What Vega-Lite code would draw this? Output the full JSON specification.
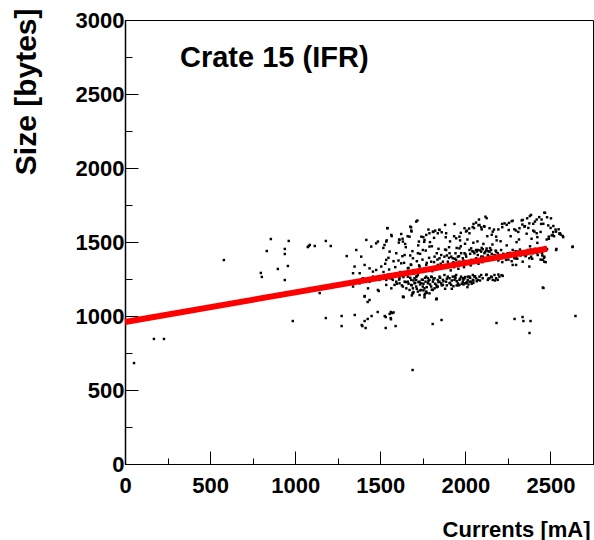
{
"$schema": "https://vega.github.io/schema/vega-lite/v6.json",
"width": 468, "height": 444,
"autosize": {"type": "none"},
"padding": {"left": 125, "top": 20, "right": 1, "bottom": 76},
"background": "white",
"config": {"view": {"stroke": "black", "strokeWidth": 1}, "font": "Liberation Sans"},
"title": {"text": "Crate 15 (IFR)", "anchor": "start", "frame": "group", "dx": 55, "offset": -88, "baseline": "alphabetic", "font": "Liberation Sans", "fontSize": 29, "fontWeight": "bold", "color": "black"},
"datasets": {
"fit": [{"x": 0, "y": 960}, {"x": 2480, "y": 1454}],
"pts": [
{"x":53,"y":682},{"x":170,"y":845},{"x":229,"y":845},{"x":581,"y":1378},{"x":798,"y":1291},{"x":804,"y":1264},{"x":833,"y":1439},{"x":857,"y":1520},{"x":898,"y":1318},{"x":939,"y":1453},{"x":939,"y":1419},{"x":957,"y":1338},{"x":962,"y":1507},{"x":939,"y":1243},{"x":986,"y":966},{"x":1074,"y":1466},{"x":1086,"y":1480},{"x":1080,"y":1473},{"x":1115,"y":1473},{"x":1144,"y":1155},{"x":1180,"y":1507},{"x":1180,"y":986},{"x":1209,"y":1473},{"x":1273,"y":1000},{"x":1273,"y":932},{"x":1303,"y":1405},
{"x":1491,"y":1169},{"x":1408,"y":1135},{"x":1426,"y":1095},{"x":1637,"y":1128},{"x":1690,"y":1155},{"x":1760,"y":1142},{"x":1350,"y":1007},{"x":1391,"y":939},{"x":1395,"y":932},{"x":1408,"y":966},{"x":1426,"y":980},{"x":1414,"y":919},{"x":1449,"y":1000},{"x":1485,"y":1027},{"x":1526,"y":1000},{"x":1532,"y":993},{"x":1555,"y":1014},{"x":1562,"y":1027},{"x":1570,"y":1020},{"x":1578,"y":1024},{"x":1561,"y":986},{"x":1563,"y":978},{"x":1532,"y":919},{"x":1590,"y":932},{"x":1808,"y":946},{"x":1690,"y":635},{"x":1831,"y":1115},{"x":1860,"y":973},{"x":2183,"y":953},{"x":2289,"y":980},{"x":2336,"y":993},{"x":2341,"y":966},{"x":2383,"y":966},{"x":2377,"y":885},{"x":2647,"y":1000},{"x":2459,"y":1189},{"x":2629,"y":1466},{"x":2535,"y":1453},
{"x":2118,"y":1671},{"x":2386,"y":1683},{"x":2464,"y":1698},{"x":2480,"y":1667},{"x":2503,"y":1660},{"x":2337,"y":1649},{"x":2363,"y":1660},{"x":2376,"y":1626},{"x":2409,"y":1638},{"x":2445,"y":1622},{"x":2517,"y":1608},{"x":2548,"y":1586},{"x":2556,"y":1559},{"x":2572,"y":1541},{"x":2533,"y":1570},{"x":2490,"y":1536},{"x":2513,"y":1548},{"x":2406,"y":1570},{"x":2419,"y":1559},{"x":2347,"y":1604},{"x":2318,"y":1593},{"x":2288,"y":1586},{"x":2255,"y":1581},{"x":2230,"y":1626},{"x":2216,"y":1622},{"x":2278,"y":1644},{"x":2181,"y":1536},{"x":2161,"y":1570},{"x":2142,"y":1593},{"x":2112,"y":1604},{"x":2093,"y":1599},{"x":2083,"y":1615},{"x":2063,"y":1631},{"x":2048,"y":1622},{"x":2024,"y":1559},{"x":2009,"y":1577},{"x":1995,"y":1593},{"x":1965,"y":1536},{"x":1946,"y":1525},{"x":1936,"y":1622},{"x":1881,"y":1615},{"x":1887,"y":1559},{"x":1848,"y":1581},{"x":1838,"y":1559},{"x":1809,"y":1570},{"x":1789,"y":1559},{"x":1770,"y":1548},{"x":1760,"y":1514},{"x":1741,"y":1536},{"x":1727,"y":1503},{"x":1711,"y":1638},{"x":1676,"y":1604},{"x":1682,"y":1577},{"x":1672,"y":1536},{"x":1633,"y":1503},{"x":1613,"y":1514},{"x":1609,"y":1496},{"x":1623,"y":1554},{"x":1565,"y":1548},{"x":1541,"y":1593},{"x":1535,"y":1503},{"x":1525,"y":1480},{"x":1486,"y":1503},{"x":1476,"y":1491},{"x":1447,"y":1469},{"x":1418,"y":1514},{"x":1359,"y":1446},{"x":1388,"y":1401},{"x":1349,"y":1334},{"x":1408,"y":1345},{"x":1437,"y":1322},{"x":1379,"y":1289},{"x":1340,"y":1289},
{"x":1555,"y":1435},{"x":1594,"y":1424},{"x":1643,"y":1412},{"x":1692,"y":1390},{"x":1721,"y":1424},{"x":1750,"y":1446},{"x":1789,"y":1469},{"x":1832,"y":1424},{"x":1858,"y":1412},{"x":1887,"y":1446},{"x":1917,"y":1401},{"x":1942,"y":1424},{"x":1965,"y":1457},{"x":1995,"y":1424},{"x":2024,"y":1446},{"x":2048,"y":1435},{"x":2073,"y":1446},{"x":2102,"y":1451},{"x":2122,"y":1442},{"x":2142,"y":1435},{"x":2171,"y":1412},{"x":2190,"y":1424},{"x":2220,"y":1401},{"x":2249,"y":1424},{"x":2278,"y":1446},{"x":2308,"y":1435},{"x":2337,"y":1424},{"x":2367,"y":1446},{"x":2396,"y":1424},{"x":2415,"y":1435},{"x":2451,"y":1424},{"x":2464,"y":1401},{"x":2337,"y":1367},{"x":2376,"y":1334},{"x":2278,"y":1345},{"x":2239,"y":1379},{"x":2210,"y":1390},{"x":2161,"y":1390},{"x":2132,"y":1390},{"x":2093,"y":1401},{"x":2063,"y":1390},{"x":2034,"y":1379},{"x":1965,"y":1367},{"x":1926,"y":1356},{"x":1897,"y":1367},{"x":1868,"y":1367},{"x":1838,"y":1345},{"x":1799,"y":1367},{"x":1770,"y":1345},{"x":1731,"y":1334},{"x":1682,"y":1345},{"x":1662,"y":1322},{"x":1623,"y":1356},{"x":1535,"y":1379},{"x":1506,"y":1334},{"x":1476,"y":1311},{"x":1457,"y":1300},
{"x":2034,"y":1457},{"x":2053,"y":1424},{"x":2073,"y":1412},{"x":2093,"y":1435},{"x":2112,"y":1424},{"x":2132,"y":1412},{"x":2151,"y":1446},{"x":2181,"y":1435},{"x":2200,"y":1412},{"x":2210,"y":1446},{"x":2102,"y":1401},{"x":2122,"y":1379},{"x":2142,"y":1401},{"x":2190,"y":1390},{"x":2063,"y":1446},{"x":2005,"y":1401},{"x":1985,"y":1390},{"x":1956,"y":1401},{"x":1907,"y":1424},{"x":1877,"y":1401},{"x":1848,"y":1390},{"x":1819,"y":1401},{"x":1926,"y":1390},{"x":1975,"y":1424},{"x":1946,"y":1379},{"x":2230,"y":1412},{"x":2259,"y":1401},{"x":2298,"y":1390},{"x":2318,"y":1424},{"x":2357,"y":1412},{"x":2386,"y":1401},{"x":2425,"y":1412},{"x":2454,"y":1446},{"x":2474,"y":1457},{"x":2480,"y":1451},
{"x":2298,"y":1412},{"x":2327,"y":1435},{"x":2347,"y":1412},{"x":2386,"y":1435},{"x":2425,"y":1446},{"x":2445,"y":1457},{"x":2454,"y":1379},{"x":2464,"y":1367},{"x":2376,"y":1390},{"x":2288,"y":1390},{"x":2298,"y":1345},{"x":2631,"y":1469},{"x":2533,"y":1446},
{"x":1633,"y":1277},{"x":1662,"y":1266},{"x":1682,"y":1244},{"x":1701,"y":1255},{"x":1721,"y":1277},{"x":1731,"y":1232},{"x":1750,"y":1244},{"x":1770,"y":1266},{"x":1780,"y":1221},{"x":1789,"y":1244},{"x":1799,"y":1199},{"x":1809,"y":1232},{"x":1819,"y":1255},{"x":1829,"y":1210},{"x":1838,"y":1244},{"x":1848,"y":1266},{"x":1858,"y":1221},{"x":1868,"y":1244},{"x":1877,"y":1277},{"x":1887,"y":1232},{"x":1907,"y":1255},{"x":1917,"y":1210},{"x":1926,"y":1266},{"x":1936,"y":1244},{"x":1946,"y":1277},{"x":1956,"y":1221},{"x":1965,"y":1244},{"x":1975,"y":1266},{"x":1985,"y":1232},{"x":1995,"y":1255},{"x":2005,"y":1221},{"x":2014,"y":1244},{"x":2024,"y":1266},{"x":2034,"y":1232},{"x":2044,"y":1277},{"x":2063,"y":1255},{"x":2083,"y":1266},{"x":2102,"y":1255},{"x":2122,"y":1277},{"x":2132,"y":1244},{"x":2151,"y":1266},{"x":2161,"y":1244},{"x":2181,"y":1255},{"x":2200,"y":1266},{"x":2220,"y":1271},{"x":1711,"y":1199},{"x":1741,"y":1176},{"x":1760,"y":1187},{"x":1770,"y":1165},{"x":1789,"y":1153},{"x":1809,"y":1176},{"x":1692,"y":1153},{"x":1672,"y":1176},{"x":1653,"y":1187},{"x":1633,"y":1199},{"x":1613,"y":1221},{"x":1594,"y":1232},{"x":1574,"y":1244},{"x":1555,"y":1255},{"x":1535,"y":1244},{"x":1516,"y":1266},{"x":1496,"y":1244},{"x":1476,"y":1255},{"x":1457,"y":1266},{"x":1437,"y":1232},{"x":1418,"y":1244},{"x":1398,"y":1255},{"x":1379,"y":1221},{"x":1359,"y":1232},{"x":1340,"y":1199},{"x":1428,"y":1187},{"x":1408,"y":1131},{"x":1437,"y":1108},{"x":1486,"y":1176},{"x":1633,"y":1131},{"x":1829,"y":1113},{"x":1760,"y":1126},{"x":1731,"y":1142},{"x":1721,"y":1165},{"x":1701,"y":1221},{"x":1682,"y":1210},
{"x":1662,"y":1232},{"x":1692,"y":1187},{"x":1711,"y":1244},{"x":1741,"y":1221},{"x":1750,"y":1199},{"x":1766,"y":1232},{"x":1780,"y":1255},{"x":1799,"y":1266},{"x":1819,"y":1187},{"x":1838,"y":1199},{"x":1848,"y":1232},{"x":1868,"y":1210},{"x":1897,"y":1266},{"x":1907,"y":1221},{"x":1942,"y":1255},{"x":1965,"y":1210},{"x":1985,"y":1255},{"x":1995,"y":1221},{"x":2014,"y":1266},{"x":2024,"y":1232},{"x":2044,"y":1244},{"x":2053,"y":1266},{"x":2073,"y":1244},{"x":2093,"y":1277},{"x":2142,"y":1255},{"x":2171,"y":1277},{"x":2190,"y":1244},{"x":1711,"y":1266},{"x":1643,"y":1232},{"x":1613,"y":1255},{"x":1584,"y":1210},{"x":1565,"y":1187},{"x":1535,"y":1210},
{"x":1718,"y":1645},{"x":1543,"y":1594},{"x":1681,"y":1599},{"x":1684,"y":1571},{"x":1753,"y":1533},{"x":1783,"y":1584},{"x":1812,"y":1568},{"x":1823,"y":1577},{"x":1847,"y":1583},{"x":1861,"y":1566},{"x":1816,"y":1528},{"x":1792,"y":1499},{"x":1758,"y":1501},{"x":1723,"y":1477},{"x":1611,"y":1517},{"x":1631,"y":1522},{"x":1646,"y":1487},{"x":1650,"y":1465},{"x":1538,"y":1511},{"x":1518,"y":1460},{"x":1567,"y":1540},{"x":1661,"y":1539},{"x":1885,"y":1532},{"x":1910,"y":1504},{"x":1934,"y":1539},{"x":1969,"y":1511},{"x":1973,"y":1562},{"x":2004,"y":1571},{"x":2022,"y":1591},{"x":2043,"y":1601},{"x":2051,"y":1594},{"x":2077,"y":1613},{"x":2080,"y":1652},{"x":2096,"y":1585},{"x":2110,"y":1607},{"x":2125,"y":1661},{"x":2129,"y":1539},{"x":2155,"y":1549},{"x":2168,"y":1584},{"x":2194,"y":1585},{"x":2217,"y":1600},{"x":2243,"y":1616},{"x":2256,"y":1629},{"x":2272,"y":1640},{"x":2297,"y":1578},{"x":2311,"y":1568},{"x":2331,"y":1646},{"x":2335,"y":1618},{"x":2350,"y":1607},{"x":2370,"y":1595},{"x":2379,"y":1675},{"x":2399,"y":1623},{"x":2399,"y":1577},{"x":2419,"y":1652},{"x":2434,"y":1668},{"x":2448,"y":1652},{"x":2468,"y":1697},{"x":2487,"y":1612},{"x":2501,"y":1595},{"x":2516,"y":1567},{"x":2530,"y":1584},{"x":2552,"y":1556},{"x":2560,"y":1550},{"x":2575,"y":1533},{"x":2521,"y":1539},{"x":2507,"y":1544},{"x":2458,"y":1623},{"x":2442,"y":1568},{"x":2423,"y":1533},{"x":2360,"y":1556},{"x":2389,"y":1522},{"x":2315,"y":1517},{"x":2301,"y":1499},{"x":2266,"y":1539},{"x":2243,"y":1477},{"x":2207,"y":1505},{"x":2184,"y":1511},{"x":2159,"y":1483},{"x":2145,"y":1459},{"x":2106,"y":1487},{"x":2071,"y":1504},{"x":2047,"y":1495},{"x":2012,"y":1517},{"x":1998,"y":1488},{"x":1973,"y":1471},{"x":1949,"y":1460},{"x":1904,"y":1465},{"x":1881,"y":1449},{"x":1842,"y":1454},{"x":1803,"y":1471},{"x":1767,"y":1442},{"x":1734,"y":1420},{"x":1689,"y":1438},{"x":1676,"y":1409},{"x":1630,"y":1404},{"x":1607,"y":1375},{"x":1578,"y":1370},{"x":1548,"y":1393},{"x":1529,"y":1353},{"x":1588,"y":1330},{"x":1552,"y":1314},{"x":1519,"y":1297},{"x":2468,"y":1465},{"x":2380,"y":1471},{"x":2423,"y":1494},{"x":2478,"y":1517},{"x":2491,"y":1522},
{"x":1891,"y":1409},{"x":1904,"y":1393},{"x":1930,"y":1364},{"x":1939,"y":1387},{"x":1953,"y":1359},{"x":1963,"y":1404},{"x":1989,"y":1375},{"x":2002,"y":1415},{"x":2028,"y":1420},{"x":2041,"y":1438},{"x":2067,"y":1436},{"x":2086,"y":1443},{"x":2096,"y":1460},{"x":2116,"y":1432},{"x":2125,"y":1456},{"x":2135,"y":1438},{"x":2155,"y":1420},{"x":2174,"y":1409},{"x":2178,"y":1442},{"x":2204,"y":1398},{"x":2223,"y":1420},{"x":2237,"y":1405},{"x":2262,"y":1426},{"x":2276,"y":1409},{"x":2295,"y":1438},{"x":2321,"y":1449},{"x":2325,"y":1409},{"x":2344,"y":1426},{"x":2370,"y":1432},{"x":2383,"y":1449},{"x":2409,"y":1454},{"x":2419,"y":1426},{"x":2438,"y":1432},{"x":2452,"y":1409},{"x":2462,"y":1393},{"x":2472,"y":1364},{"x":2442,"y":1381},{"x":2393,"y":1387},{"x":2354,"y":1404},{"x":2305,"y":1387},{"x":2272,"y":1370},{"x":2253,"y":1381},{"x":2217,"y":1364},{"x":2194,"y":1375},{"x":2165,"y":1387},{"x":2129,"y":1375},{"x":2100,"y":1364},{"x":2077,"y":1353},{"x":2057,"y":1370},{"x":2031,"y":1342},{"x":2018,"y":1353},{"x":1992,"y":1330},{"x":1979,"y":1348},{"x":1959,"y":1319},{"x":1934,"y":1330},{"x":1914,"y":1308},{"x":1901,"y":1336},{"x":1875,"y":1342},{"x":1855,"y":1353},{"x":1836,"y":1381},{"x":1816,"y":1364},{"x":1787,"y":1393},{"x":1773,"y":1359},{"x":1748,"y":1381},{"x":1728,"y":1342},{"x":1715,"y":1370},{"x":1679,"y":1348},{"x":1666,"y":1325},{"x":1640,"y":1359},{"x":1617,"y":1297},{"x":1695,"y":1285},{"x":1793,"y":1325},{"x":1806,"y":1303},
{"x":1513,"y":1263},{"x":1548,"y":1280},{"x":1568,"y":1252},{"x":1581,"y":1269},{"x":1597,"y":1218},{"x":1611,"y":1246},{"x":1636,"y":1263},{"x":1650,"y":1229},{"x":1676,"y":1258},{"x":1685,"y":1207},{"x":1695,"y":1240},{"x":1705,"y":1224},{"x":1715,"y":1269},{"x":1724,"y":1229},{"x":1734,"y":1213},{"x":1744,"y":1246},{"x":1754,"y":1218},{"x":1763,"y":1258},{"x":1773,"y":1195},{"x":1783,"y":1235},{"x":1793,"y":1213},{"x":1803,"y":1263},{"x":1812,"y":1246},{"x":1822,"y":1218},{"x":1832,"y":1195},{"x":1842,"y":1229},{"x":1852,"y":1258},{"x":1861,"y":1207},{"x":1871,"y":1235},{"x":1881,"y":1184},{"x":1891,"y":1252},{"x":1910,"y":1224},{"x":1920,"y":1240},{"x":1930,"y":1201},{"x":1940,"y":1269},{"x":1949,"y":1235},{"x":1959,"y":1207},{"x":1969,"y":1252},{"x":1979,"y":1218},{"x":1989,"y":1246},{"x":1998,"y":1263},{"x":2008,"y":1229},{"x":2018,"y":1213},{"x":2028,"y":1258},{"x":2037,"y":1218},{"x":2047,"y":1240},{"x":2057,"y":1269},{"x":2067,"y":1235},{"x":2086,"y":1240},{"x":2125,"y":1280},{"x":2135,"y":1252},{"x":2155,"y":1263},{"x":2174,"y":1240},{"x":2194,"y":1280},{"x":2213,"y":1276},{"x":1754,"y":1173},{"x":1773,"y":1157},{"x":1803,"y":1178},{"x":1695,"y":1162},{"x":1685,"y":1139},{"x":1636,"y":1128},{"x":1832,"y":1117},{"x":1949,"y":1207},{"x":1989,"y":1213},{"x":2012,"y":1195},{"x":2047,"y":1224},{"x":1891,"y":1207},{"x":1920,"y":1184},{"x":1734,"y":1173},{"x":1763,"y":1150},{"x":1715,"y":1184},{"x":1666,"y":1218},{"x":1627,"y":1207},{"x":1607,"y":1280},{"x":2455,"y":1192}
]},
"layer": [
{"data": {"name": "pts"},
 "mark": {"type": "point", "shape": "square", "filled": true, "size": 6, "color": "black", "opacity": 1},
 "encoding": {
  "x": {"field": "x", "type": "quantitative", "scale": {"domain": [0, 2750], "nice": false, "zero": false},
   "axis": {"orient": "bottom", "values": [0, 500, 1000, 1500, 2000, 2500], "format": "d", "grid": false, "tickSize": -13, "tickColor": "black", "tickWidth": 1, "domainColor": "black", "domainWidth": 1, "labelPadding": 24, "labelFlush": false, "labelOverlap": false, "labelFont": "Liberation Sans", "labelFontSize": 22, "labelFontWeight": "bold", "labelColor": "black",
    "title": "Currents [mA]", "titleFont": "Liberation Sans", "titleFontSize": 22, "titleFontWeight": "bold", "titleColor": "black", "titleX": 465, "titleY": 72, "titleAlign": "right", "titleBaseline": "alphabetic"}},
  "y": {"field": "y", "type": "quantitative", "scale": {"domain": [0, 3000], "nice": false, "zero": false},
   "axis": {"orient": "left", "values": [0, 500, 1000, 1500, 2000, 2500, 3000], "format": "d", "grid": false, "tickSize": -13, "tickColor": "black", "tickWidth": 1, "domainColor": "black", "domainWidth": 1.5, "labelPadding": 14, "labelFlush": false, "labelOverlap": false, "labelFont": "Liberation Sans", "labelFontSize": 22, "labelFontWeight": "bold", "labelColor": "black",
    "title": "Size [bytes]", "titleFont": "Liberation Sans", "titleFontSize": 30, "titleFontWeight": "bold", "titleColor": "black", "titleAngle": -90, "titleX": -90, "titleY": -12, "titleAlign": "right", "titleBaseline": "alphabetic"}}
 }},
{"data": {"name": "fit"},
 "mark": {"type": "line", "color": "#ff0000", "strokeWidth": 6},
 "encoding": {
  "x": {"field": "x", "type": "quantitative", "scale": {"domain": [0, 2750], "nice": false, "zero": false},
   "axis": {"orient": "bottom", "values": [250, 750, 1250, 1750, 2250, 2750], "grid": false, "labels": false, "domain": false, "title": null, "tickSize": -6, "tickColor": "black", "tickWidth": 1}},
  "y": {"field": "y", "type": "quantitative", "scale": {"domain": [0, 3000], "nice": false, "zero": false},
   "axis": {"orient": "left", "values": [250, 750, 1250, 1750, 2250, 2750], "grid": false, "labels": false, "domain": false, "title": null, "tickSize": -7, "tickColor": "black", "tickWidth": 1}}
 }}
],
"resolve": {"axis": {"x": "independent", "y": "independent"}}
}
